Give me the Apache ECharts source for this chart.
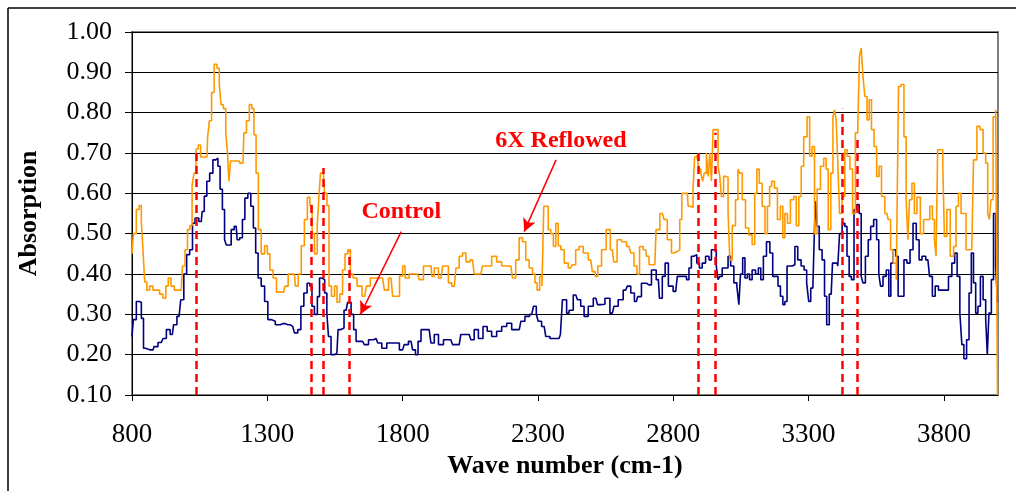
<!DOCTYPE html>
<html><head><meta charset="utf-8">
<script src="https://cdn.jsdelivr.net/npm/echarts@6/dist/echarts.min.js"></script>
<style>html,body{margin:0;padding:0;background:#fff}#c{width:1016px;height:491px}</style>
</head><body><div id="c"></div>
<script>
const xTicks = [800, 1300, 1800, 2300, 2800, 3300, 3800];

const controlWn = [800,810,822,831,838,847,853,878,884,908,921,933,949,958,974,986,997,1007,1019,1028,1038,1056,1062,1072,1081,1093,1105,1114,1121,1130,1138,1146,1151,1163,1170,1185,1192,1204,1212,1222,1234,1244,1253,1261,1271,1284,1296,1308,1320,1339,1357,1376,1394,1406,1419,1429,1441,1453,1462,1468,1480,1490,1496,1507,1517,1523,1529,1542,1557,1566,1576,1591,1603,1616,1622,1634,1652,1665,1683,1702,1714,1732,1751,1776,
1800,1812,1831,1843,1852,1862,1874,1898,1911,1923,1942,1960,1978,1991,2009,2021,2046,2058,2071,2089,2105,2120,2138,2157,2175,2194,2212,2231,2243,2261,2277,2290,2298,2304,2323,2335,2354,2378,2388,2393,2403,2409,2421,2440,2452,2464,2477,2495,2514,2526,2538,2557,2575,2587,2606,2624,2637,2649,2664,2673,2692,2710,2729,2745,2753,2766,2774,2790,2809,
2821,2833,2846,2852,2864,2870,2882,2892,2901,2913,2926,2938,2944,2956,2962,2969,2975,2987,2999,3006,3018,3030,3040,3045,3052,3061,3069,3079,3085,3098,3110,3119,3128,3138,3151,3163,3172,3184,3190,3202,3208,3217,3224,3239,3245,3254,3266,3279,3288,3298,3303,3313,3319,3323,3328,3335,3344,3356,3362,3372,3381,3387,3390,3405,3411,3418,3430,3438,3446,3454,3463,3473,3483,3491,3498,3504,3516,3525,3534,3547,3556,3563,3569,3581,3593,3600,3608,3618,3627,3635,3648,3657,3670,3680,3692,3704,3713,3725,3741,3753,3762,3774,3786,3799,3811,3823,3836,3844,3854,3864,3869,3879,3889,3897,3906,3913,3922,3930,3940,3950,3959,3962,3971,3980,3987,3996,4000];
const controlAbs = [0.245,0.287,0.332,0.33,0.29,0.216,0.212,0.212,0.22,0.23,0.24,0.262,0.25,0.274,0.295,0.336,0.40,0.448,0.46,0.526,0.539,0.53,0.555,0.593,0.63,0.65,0.683,0.687,0.667,0.61,0.56,0.485,0.472,0.472,0.51,0.518,0.485,0.49,0.535,0.588,0.60,0.568,0.514,0.452,0.39,0.37,0.332,0.287,0.283,0.274,0.277,0.274,0.27,0.254,0.262,0.32,0.353,0.377,0.37,0.32,0.30,0.344,0.39,0.386,0.353,0.303,0.245,0.20,0.204,0.262,0.266,0.31,0.33,0.30,0.262,0.233,0.233,0.225,0.237,0.24,0.229,0.216,0.229,0.229,
0.212,0.225,0.233,0.212,0.20,0.233,0.262,0.262,0.229,0.25,0.225,0.237,0.237,0.225,0.225,0.25,0.25,0.237,0.262,0.24,0.27,0.258,0.245,0.258,0.27,0.278,0.262,0.262,0.283,0.295,0.30,0.32,0.30,0.283,0.27,0.245,0.24,0.24,0.25,0.336,0.336,0.303,0.31,0.348,0.336,0.32,0.295,0.32,0.34,0.324,0.325,0.34,0.303,0.32,0.336,0.36,0.37,0.353,0.332,0.344,0.377,0.373,0.41,0.386,0.34,0.394,0.427,0.37,0.357,
0.394,0.394,0.394,0.386,0.415,0.444,0.448,0.427,0.415,0.427,0.444,0.435,0.46,0.46,0.42,0.386,0.394,0.415,0.415,0.444,0.42,0.378,0.37,0.324,0.40,0.44,0.39,0.40,0.386,0.41,0.40,0.415,0.386,0.444,0.48,0.452,0.394,0.394,0.37,0.345,0.324,0.332,0.42,0.42,0.423,0.468,0.435,0.42,0.41,0.378,0.332,0.365,0.37,0.493,0.58,0.518,0.46,0.435,0.345,0.274,0.35,0.357,0.427,0.427,0.42,0.50,0.526,0.518,0.444,0.394,0.386,0.56,0.572,0.55,0.394,0.378,0.444,0.485,0.518,0.535,0.485,0.40,0.37,0.394,0.41,0.345,0.427,0.46,0.444,0.345,0.345,0.435,0.427,0.46,0.526,0.485,0.435,0.444,0.435,0.394,0.345,0.37,0.36,0.36,0.36,0.394,0.427,0.452,0.394,0.303,0.225,0.19,0.237,0.353,0.452,0.378,0.303,0.32,0.394,0.336,0.287,0.20,0.303,0.386,0.55,0.42,0.33];

const reflowWn = [800,810,822,831,838,843,851,859,871,884,896,908,921,929,939,949,964,982,991,1001,1009,1019,1025,1033,1040,1050,1057,1077,1082,1090,1098,1109,1119,1126,1132,1143,1150,1156,1160,1168,1185,1210,1217,1229,1238,1247,1254,1263,1271,1284,1296,1304,1315,1328,1340,1360,1370,1384,1400,1408,1420,1431,1443,1453,1462,1469,1480,1489,1494,1499,1507,1516,1525,1531,1543,1554,1561,1574,1582,1592,1603,1611,1623,1640,1660,1672,1689,1726,1739,1757,1769,1783,
1794,1806,1812,1837,1855,1868,1886,1905,1911,1923,1942,1954,1966,1972,1991,2003,2015,2028,2040,2058,2071,2089,2101,2120,2138,2157,2175,2200,2212,2224,2237,2249,2261,2274,2286,2292,2302,2311,2319,2324,2335,2341,2354,2360,2372,2378,2391,2403,2421,2433,2446,2458,2477,2495,2507,2516,2526,2544,2560,2575,2585,2600,2618,2637,2649,2661,2671,2680,2698,2704,2717,2732,2741,2760,2772,2784,2803,2815,
2821,2827,2836,2852,2858,2870,2876,2882,2892,2897,2907,2910,2919,2926,2932,2938,2944,2950,2962,2969,2975,2981,2991,2999,3006,3012,3024,3036,3042,3049,3061,3073,3085,3098,3104,3114,3122,3135,3143,3153,3159,3168,3180,3190,3202,3208,3217,3227,3239,3251,3258,3270,3276,3288,3301,3307,3319,3325,3338,3350,3362,3368,3377,3387,3393,3399,3405,3411,3418,3430,3438,3448,3458,3467,3479,3485,3491,3498,3504,3512,3520,3528,3537,3547,3556,3565,3574,3590,3598,3608,3618,3630,3635,3648,3657,3664,3670,3676,3688,3694,3707,3719,3731,3743,3753,3762,3768,3774,3780,3793,3799,3805,3817,3830,3842,3848,3860,3867,3879,3885,3903,3916,3928,3940,3950,3959,3965,3971,3977,3987,3996,4000];
const reflowAbs = [0.45,0.50,0.56,0.57,0.53,0.46,0.38,0.36,0.37,0.36,0.36,0.35,0.34,0.37,0.39,0.37,0.36,0.36,0.42,0.46,0.51,0.52,0.62,0.65,0.71,0.72,0.69,0.69,0.74,0.78,0.85,0.92,0.91,0.87,0.82,0.81,0.75,0.70,0.63,0.68,0.68,0.675,0.75,0.78,0.82,0.81,0.745,0.65,0.51,0.45,0.47,0.45,0.41,0.39,0.355,0.355,0.37,0.40,0.40,0.37,0.40,0.47,0.535,0.59,0.57,0.50,0.45,0.52,0.60,0.65,0.65,0.60,0.57,0.37,0.345,0.37,0.33,0.35,0.41,0.45,0.46,0.40,0.39,0.37,0.345,0.37,0.39,0.39,0.36,0.39,0.345,0.345,
0.395,0.42,0.39,0.40,0.40,0.386,0.42,0.42,0.394,0.415,0.39,0.42,0.42,0.378,0.37,0.415,0.444,0.452,0.43,0.435,0.40,0.40,0.42,0.42,0.444,0.43,0.42,0.42,0.39,0.435,0.49,0.48,0.435,0.415,0.40,0.378,0.36,0.394,0.37,0.568,0.568,0.51,0.50,0.468,0.526,0.47,0.46,0.427,0.415,0.423,0.46,0.468,0.452,0.435,0.406,0.394,0.42,0.46,0.51,0.46,0.43,0.485,0.48,0.468,0.452,0.42,0.40,0.468,0.46,0.444,0.423,0.423,0.51,0.55,0.535,0.485,0.452,0.456,
0.46,0.535,0.60,0.60,0.568,0.565,0.61,0.69,0.695,0.66,0.65,0.63,0.65,0.70,0.642,0.70,0.63,0.758,0.758,0.667,0.642,0.592,0.642,0.64,0.555,0.435,0.52,0.584,0.66,0.65,0.584,0.514,0.497,0.473,0.60,0.66,0.625,0.568,0.50,0.568,0.617,0.63,0.613,0.535,0.568,0.49,0.55,0.526,0.584,0.592,0.52,0.592,0.667,0.74,0.79,0.692,0.716,0.50,0.61,0.667,0.687,0.66,0.51,0.65,0.79,0.807,0.782,0.675,0.55,0.592,0.708,0.692,0.66,0.55,0.75,0.766,0.94,0.96,0.89,0.84,0.782,0.832,0.758,0.716,0.642,0.667,0.592,0.55,0.535,0.46,0.427,0.386,0.865,0.87,0.74,0.584,0.485,0.584,0.625,0.55,0.59,0.50,0.535,0.535,0.568,0.535,0.485,0.444,0.708,0.708,0.667,0.493,0.56,0.444,0.468,0.568,0.60,0.55,0.55,0.46,0.46,0.683,0.766,0.758,0.70,0.675,0.55,0.535,0.584,0.79,0.807,0.10];

const peakWn  = [1036, 1463, 1508, 1602, 2892, 2955, 3424, 3481];
const peakTop = [0.71, 0.58, 0.663, 0.456, 0.708, 0.75, 0.81, 0.74];

const noteText = ['Control', '6X Reflowed'];
const noteWn   = [1795, 2385];
const noteAbs  = [0.555, 0.73];
const arrowFromWn  = [1795, 2367];
const arrowFromAbs = [0.505, 0.683];
const arrowToWn    = [1644, 2249];
const arrowToAbs   = [0.30, 0.505];

const FONT = 'Liberation Serif, Times New Roman, serif';
const zip = (a, b) => a.map((v, i) => [v, b[i]]);

const chart = echarts.init(document.getElementById('c'), null, {renderer: 'canvas'});
chart.setOption({
  animation: false,
  backgroundColor: '#fff',
  grid: {left: 132, right: 18, top: 32, bottom: 96, show: true, borderColor: '#808080', borderWidth: 2, backgroundColor: 'transparent'},
  xAxis: {
    type: 'value', min: 800, max: 4000,
    axisLine: {show: true, onZero: false, lineStyle: {color: '#000', width: 1}},
    axisTick: {show: true, customValues: xTicks, length: 6, lineStyle: {color: '#000'}},
    axisLabel: {customValues: xTicks, formatter: v => String(v), fontFamily: FONT, fontSize: 27, color: '#000', margin: 26},
    splitLine: {show: false},
    name: 'Wave number (cm-1)', nameLocation: 'middle', nameGap: 58,
    nameTextStyle: {fontFamily: FONT, fontWeight: 'bold', fontSize: 26, color: '#000'}
  },
  yAxis: {
    type: 'value', min: 0.1, max: 1.0, interval: 0.1,
    axisLine: {show: true, lineStyle: {color: '#000', width: 1}},
    axisTick: {show: true, length: 7, lineStyle: {color: '#000'}},
    axisLabel: {formatter: v => v.toFixed(2), fontFamily: FONT, fontSize: 26, color: '#000', margin: 20},
    splitLine: {show: true, lineStyle: {color: '#000', width: 1}},
    name: 'Absorption', nameLocation: 'middle', nameGap: 90, nameRotate: 90,
    nameTextStyle: {fontFamily: FONT, fontWeight: 'bold', fontSize: 26, color: '#000'}
  },
  graphic: [
    {type: 'line', shape: {x1: 8, y1: 8, x2: 8, y2: 491}, style: {stroke: '#000', lineWidth: 1.5}},
    {type: 'line', shape: {x1: 8, y1: 8, x2: 1016, y2: 8}, style: {stroke: '#000', lineWidth: 1.5}}
  ],
  series: [
    {
      name: 'Control', type: 'line', data: zip(controlWn, controlAbs), showSymbol: false, step: 'middle',
      lineStyle: {color: '#000080', width: 1.6}, itemStyle: {color: '#000080'}, z: 3
    },
    {
      name: '6X Reflowed', type: 'line', data: zip(reflowWn, reflowAbs), showSymbol: false, step: 'middle',
      lineStyle: {color: '#FF9900', width: 1.6}, itemStyle: {color: '#FF9900'}, z: 3
    },
    {
      name: 'peaks', type: 'line', data: [], z: 4,
      markLine: {
        silent: true, symbol: ['none', 'none'], label: {show: false},
        lineStyle: {color: '#FF0000', width: 2.5, type: [8, 5]},
        data: peakWn.map((w, i) => [{coord: [w, 0.1]}, {coord: [w, peakTop[i]]}])
      }
    },
    {
      name: 'notes', type: 'line', data: [], z: 5,
      markLine: {
        silent: true, symbol: ['none', 'arrow'], symbolSize: [10, 13], label: {show: false},
        lineStyle: {color: '#FF0000', width: 1.5, type: 'solid'},
        data: arrowFromWn.map((w, i) => [{coord: [w, arrowFromAbs[i]]}, {coord: [arrowToWn[i], arrowToAbs[i]]}])
      },
      markPoint: {
        silent: true, symbol: 'rect', symbolSize: 0,
        label: {show: true, position: 'inside', color: '#FF0000', fontFamily: FONT, fontWeight: 'bold', fontSize: 24},
        data: noteText.map((t, i) => ({coord: [noteWn[i], noteAbs[i]], value: t, label: {formatter: t}}))
      }
    }
  ]
});
</script>
</body></html>
